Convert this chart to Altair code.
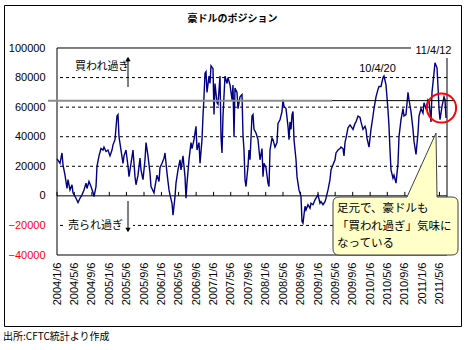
import altair as alt
import pandas as pd

week_idx = [0, 3, 5, 6, 8, 10, 11, 13, 15, 16, 19, 21, 23, 25, 27, 29, 30, 32, 34, 36, 37, 39, 40, 42, 44,
            46, 47, 49, 51, 53, 55, 56, 58, 60, 61, 62, 64, 66, 67, 69, 71, 72, 74, 76, 78, 79, 81, 83, 84,
            86, 88, 89, 91, 93, 94, 97, 98, 100, 102, 103, 105, 107, 108, 110, 112, 113, 115, 116, 118, 119,
            121, 123, 124, 126, 128, 129, 130, 132, 134, 135, 137, 139, 140, 142, 143, 145, 146, 147, 148,
            149, 150, 152, 153, 154, 156, 157, 158, 160, 161, 163, 164, 165, 166, 168, 170, 171, 173, 175,
            176, 177, 178, 180, 181, 183, 185, 186, 187, 188, 189, 191, 192, 193, 195, 196, 197, 199, 201,
            202, 203, 205, 206, 207, 209, 211, 212, 213, 215, 216, 218, 220, 221, 223, 225, 226, 227, 229,
            231, 232, 233, 234, 235, 236, 237, 239, 240, 242, 244, 245, 246, 248, 249, 251, 253, 254, 256,
            258, 259, 261, 263, 264, 266, 268, 269, 271, 273, 274, 276, 278, 279, 281, 283, 284, 286, 287,
            288, 289, 291, 293, 294, 296, 298, 299, 301, 303, 304, 306, 308, 309, 310, 312, 314, 316, 317,
            319, 321, 322, 324, 326, 327, 329, 331, 332, 333, 334, 336, 337, 339, 341, 342, 344, 346, 347,
            349, 351, 352, 354, 356, 357, 359, 361, 362, 364, 366, 367, 369, 371, 372, 374, 375, 377, 378,
            380, 381, 382, 383, 385, 387, 388, 389]
net_pos = [25000, 22000, 29000, 21000, 14000, 5000, 11000, 4000, 7500, 2000, -1600, -4500, -1600, 700, 4000,
           8600, 5000, 9700, 6300, 2300, -500, 6300, 20000, 27000, 32000, 31000, 33000, 30000, 31000, 27000,
           31000, 34500, 38000, 54000, 55000, 40000, 31000, 22000, 27000, 31000, 20000, 13000, 22000, 31000,
           13000, 7500, 14000, 25500, 17600, 11000, 24400, 36000, 27000, 15400, 6300, 2000, 6300, 14000, 9700,
           19000, 22000, 25500, 29000, 15400, 4000, 700, -5000, -13000, -500, 8600, 17600, 24400, 17600, 27000,
           13000, -1600, 8600, 24400, 36000, 32000, 38000, 47000, 31000, 36000, 22000, 38000, 54000, 67000,
           83000, 84000, 70000, 81000, 76000, 88000, 86000, 55000, 76000, 63000, 62000, 81000, 40000, 29000,
           54000, 81000, 76000, 80000, 75000, 65000, 75000, 40000, 73000, 70000, 59000, 67000, 68500, 41000,
           31000, 11000, 6300, 20000, 31000, 24400, 54000, 55000, 45000, 42500, 38000, 31000, 24400, 32000,
           13000, 22000, 19000, 8600, 6300, 31000, 39000, 38000, 33000, 36000, 49000, 51500, 57000, 65000,
           60500, 59000, 47000, 38000, 50000, 45000, 55000, 57000, 38000, 24400, 13000, 4000, -500, -17400,
           -18500, -7000, -9500, -6000, -8400, -5000, -6000, -2700, -1600, 700, -5000, -3900, -6000, -3900,
           -1600, 4000, 11000, 17600, 21000, 24400, 29000, 31000, 32000, 33000, 32000, 27000, 36000, 39000,
           46000, 48000, 47000, 45000, 49000, 50000, 54000, 53000, 50000, 45000, 47000, 45000, 39000, 33000,
           45000, 54000, 59000, 67000, 72000, 74000, 74000, 80000, 81000, 75000, 58000, 47000, 31000, 17600,
           12000, 14000, 8600, 22000, 40000, 51500, 59000, 54000, 55000, 70000, 65000, 57000, 45000, 37000,
           28000, 42500, 54000, 59000, 56000, 63000, 59000, 65000, 64000, 50000, 70000, 83000, 90000, 86600,
           74000, 59000, 51500, 60500, 67000, 65000, 52700]

tick_labels = ["2004/1/6", "2004/5/6", "2004/9/6", "2005/1/6", "2005/5/6", "2005/9/6",
               "2006/1/6", "2006/5/6", "2006/9/6", "2007/1/6", "2007/5/6", "2007/9/6",
               "2008/1/6", "2008/5/6", "2008/9/6", "2009/1/6", "2009/5/6", "2009/9/6",
               "2010/1/6", "2010/5/6", "2010/9/6", "2011/1/6", "2011/5/6"]
y_ticks = [100000, 80000, 60000, 40000, 20000, 0, -20000, -40000]
grid_levels = [80000, 60000, 40000, 20000, -20000]
ref_level = [64400]

start = pd.Timestamp("2004-01-06")
df = pd.DataFrame({
    "date": start + pd.to_timedelta([w * 7 for w in week_idx], unit="D"),
    "pos": net_pos,
})
tick_dates = pd.to_datetime(tick_labels, format="%Y/%m/%d")
ticks_df = pd.DataFrame({"d": tick_dates})
grid_df = pd.DataFrame({"lvl": grid_levels})
ref_df = pd.DataFrame({"lvl": ref_level})
one = pd.DataFrame({"k": [0]})

JP = "Noto Sans CJK JP"
LAT = "Liberation Sans"

xscale = alt.Scale(domain=[alt.DateTime(year=2004, month=1, date=6),
                           alt.DateTime(year=2011, month=6, date=28)], nice=False)
yscale = alt.Scale(domain=[-40000, 100000], nice=False, zero=False)

xaxis = alt.Axis(values=[alt.DateTime(year=t.year, month=t.month, date=t.day) for t in tick_dates],
                 format="%Y/%-m/%-d", labelAngle=270, labelAlign="right", labelBaseline="middle",
                 labelPadding=7, ticks=False, tickSize=0, domain=False, grid=False, title=None,
                 labelFont=LAT, labelFontSize=11, labelColor="black", labelOverlap=False,
                 labelFlush=False)
yaxis = alt.Axis(values=y_ticks, format="d", grid=False, ticks=False, tickSize=0, domain=False,
                 labelPadding=12, labelFont=LAT, labelFontSize=11, title=None, labelOverlap=False,
                 labelColor=alt.condition("datum.value < 0", alt.value("#ff0000"), alt.value("#000000")))


def shape_layer(path, cx, cy, size, **kw):
    """Annotation shape drawn as a custom symbol path (pixel position in plot coordinates)."""
    return alt.Chart(one).mark_point(shape=path, size=size, opacity=1, clip=False, **kw).encode(
        x=alt.value(cx), y=alt.value(cy))


frame = alt.Chart(one).mark_rect(fillOpacity=0, stroke="black", strokeWidth=1, clip=False).encode(
    x=alt.value(-52.5), x2=alt.value(404.5), y=alt.value(-42.5), y2=alt.value(278.5))

plot_border = shape_layer("M-1,-0.5308L1,-0.5308L1,0.5308L-1,0.5308Z", 195, 103.5, 152100,
                          filled=False, stroke="black", strokeWidth=1)

title = alt.Chart(one).mark_text(text="豪ドルのポジション", font=JP, fontSize=10, fontWeight="bold",
                                 align="center", baseline="middle", clip=False).encode(
    x=alt.value(175.5), y=alt.value(-29.5))

grid = alt.Chart(grid_df).mark_rule(color="black", strokeWidth=1, strokeDash=[3, 3]).encode(
    y=alt.Y("lvl:Q", scale=yscale, axis=yaxis))

urare_bg = shape_layer("M-1,-0.206L1,-0.206L1,0.206L-1,0.206Z", 42, 178, 4624,
                       filled=True, fill="white", strokeWidth=0)

zero = alt.Chart(one).mark_rule(color="black", strokeWidth=1).encode(
    y=alt.YDatum(0, scale=yscale, axis=yaxis))

tick_marks = alt.Chart(ticks_df).mark_rule(color="black", strokeWidth=1).encode(
    x=alt.X("d:T", scale=xscale, axis=xaxis),
    y=alt.YDatum(0, scale=yscale, axis=yaxis), y2=alt.Y2Datum(2700))

callout_path = ("M-0.904,-0.464L0.184,-0.464L0.648,-1.488L0.664,-0.464L0.904,-0.464"
                "Q1,-0.464 1,-0.368L1,0.368Q1,0.464 0.904,0.464L-0.904,0.464"
                "Q-1,0.464 -1,0.368L-1,-0.368Q-1,-0.464 -0.904,-0.464Z")
callout = shape_layer(callout_path, 338.5, 178, 15625, filled=True, fill="#ffffc8",
                      stroke="#404040", strokeWidth=1)

line = alt.Chart(df).mark_line(color="#000080", strokeWidth=1.4).encode(
    x=alt.X("date:T", scale=xscale, axis=xaxis),
    y=alt.Y("pos:Q", scale=yscale, axis=yaxis))

ref_gray = alt.Chart(ref_df).mark_rule(color="#8c8c8c", strokeWidth=2, clip=False).encode(
    y=alt.Y("lvl:Q", scale=yscale, axis=yaxis), x=alt.value(-9), x2=alt.value(275))
ref_black = alt.Chart(ref_df).mark_rule(color="black", strokeWidth=1, clip=False).encode(
    y=alt.Y("lvl:Q", scale=yscale, axis=yaxis), x=alt.value(275), x2=alt.value(396))

kaware = alt.Chart(one).mark_text(text="買われ過ぎ", font=JP, fontSize=11, align="left",
                                  baseline="middle", clip=False).encode(x=alt.value(18), y=alt.value(19))
up_shaft = alt.Chart(one).mark_rule(color="black", strokeWidth=1, clip=False).encode(
    x=alt.value(71), y=alt.value(11), y2=alt.value(39))
up_head = alt.Chart(one).mark_point(shape="triangle-up", filled=True, color="black", size=28,
                                    opacity=1, clip=False).encode(x=alt.value(71), y=alt.value(11))

urare = alt.Chart(one).mark_text(text="売られ過ぎ", font=JP, fontSize=11, align="left",
                                 baseline="middle", clip=False).encode(x=alt.value(11), y=alt.value(178))
dn_shaft = alt.Chart(one).mark_rule(color="black", strokeWidth=1, clip=False).encode(
    x=alt.value(71), y=alt.value(153), y2=alt.value(181))
dn_head = alt.Chart(one).mark_point(shape="triangle-down", filled=True, color="black", size=28,
                                    opacity=1, clip=False).encode(x=alt.value(71), y=alt.value(182))

lab_1004 = alt.Chart(one).mark_text(text="10/4/20", font=LAT, fontSize=11, align="center",
                                    baseline="middle", clip=False).encode(x=alt.value(320.5), y=alt.value(20.5))

callout_text = alt.Chart(one).mark_text(text=["足元で、豪ドルも", "「買われ過ぎ」気味に", "なっている"],
                                        font=JP, fontSize=11.5, lineHeight=17.5, align="left",
                                        baseline="middle", clip=False).encode(
    x=alt.value(280), y=alt.value(161))

circle = alt.Chart(one).mark_point(shape="circle", filled=False, stroke="#ff0000", strokeWidth=2,
                                   size=855, opacity=1, clip=False).encode(x=alt.value(384.5), y=alt.value(60))

lab_box = shape_layer("M-1,-0.341L1,-0.341L1,0.341L-1,0.341Z", 376, 2.5, 1936,
                      filled=True, fill="white", strokeWidth=0)
lab_1104 = alt.Chart(one).mark_text(text="11/4/12", font=LAT, fontSize=11, align="center",
                                    baseline="middle", clip=False).encode(x=alt.value(376.5), y=alt.value(3))

source = alt.Chart(one).mark_text(text="出所:CFTC統計より作成", font=JP, fontSize=10, align="left",
                                  baseline="middle", clip=False).encode(x=alt.value(-54), y=alt.value(289))

chart = alt.layer(
    frame, plot_border, title, grid, urare_bg, zero, tick_marks, callout, line, ref_gray, ref_black,
    kaware, up_shaft, up_head, urare, dn_shaft, dn_head, lab_1004,
    callout_text, circle, lab_box, lab_1104, source,
).properties(
    width=390, height=207,
    autosize=alt.AutoSizeParams(type="none"),
    padding={"left": 57, "top": 48, "right": 19, "bottom": 95},
    background="white",
).configure_view(stroke=None)

chart.save("out.html", embed_options={"renderer": "svg", "actions": False})
